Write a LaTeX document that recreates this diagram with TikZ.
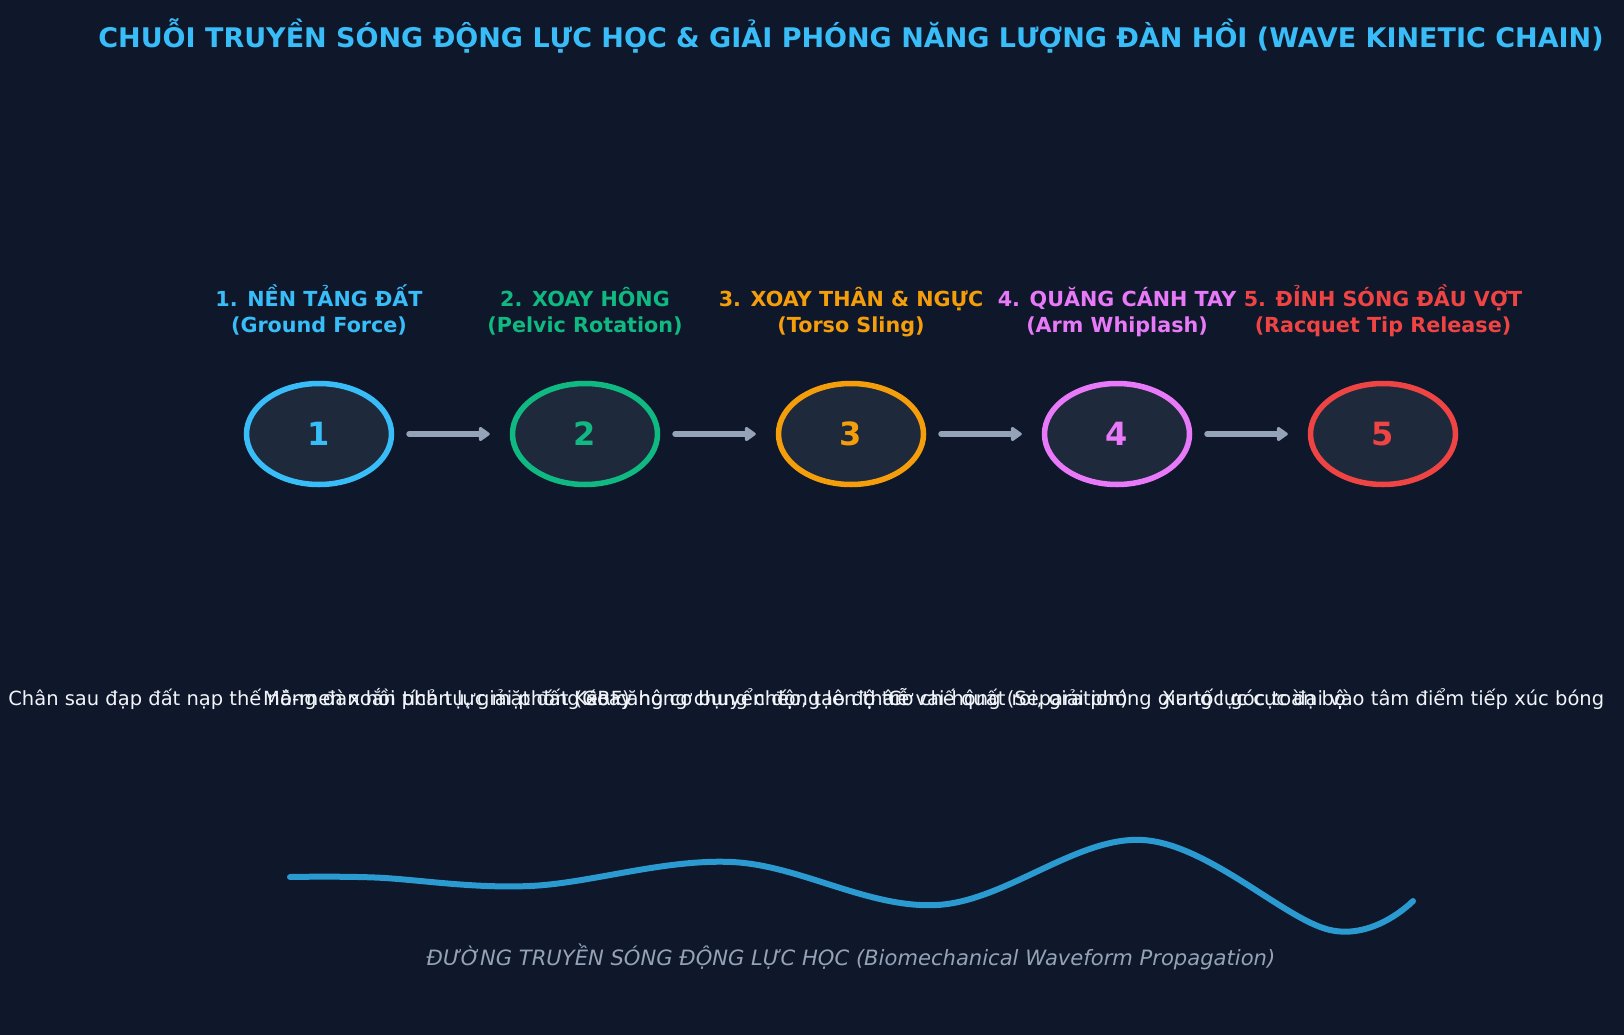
\documentclass[tikz,border=0pt]{standalone}
\usepackage{fontspec}
\setmainfont{DejaVu Sans}
\usetikzlibrary{arrows.meta,shapes.geometric}
\definecolor{bgnavy}{HTML}{0F172A}
\definecolor{discfill}{HTML}{1E293B}
\definecolor{cground}{HTML}{38BDF8}
\definecolor{cpelvic}{HTML}{10B981}
\definecolor{ctorso}{HTML}{F59E0B}
\definecolor{carm}{HTML}{E879F9}
\definecolor{ctip}{HTML}{EF4444}
\definecolor{slate}{HTML}{94A3B8}
\definecolor{wavecol}{HTML}{2B9AD0}
\definecolor{desccol}{HTML}{F1F5F9}
\tikzset{
  stagedisc/.style={ellipse, fill=discfill, line width=5.5pt, minimum width=145pt,
    minimum height=101pt, inner sep=0pt, font=\fontsize{32}{38}\selectfont\bfseries},
  stagetitle/.style={anchor=base, inner sep=0pt, font=\fontsize{20.7}{26.5}\selectfont\bfseries},
  stagedesc/.style={inner sep=0pt, text=desccol, font=\fontsize{19.5}{23}\selectfont},
  flowarrow/.style={draw=slate, line width=6pt, line cap=round,
    -{Triangle[length=12pt,width=16pt,round]}, shorten <=15pt, shorten >=20pt}
}
\newcommand{\drawstage}[6]{
  \node[stagedisc, draw=#3, text=#3] (s#1) at (#2,434) {#1};
  \node[stagetitle, text=#3] (h#1) at (#2,306) {#1. #4};
  \node[stagetitle, text=#3] (sub#1) at (#2,332) {(#5)};
  \node[stagedesc] (d#1) at (#2,699) {#6};
}
\begin{document}
\begin{tikzpicture}[x=1pt,y=-1pt]
\fill[bgnavy] (0,0) rectangle (1624,1035);
\useasboundingbox (0,0) rectangle (1624,1035);
\node[text=cground, font=\fontsize{27}{32}\selectfont\bfseries] (title) at (851,36)
  {CHUỖI TRUYỀN SÓNG ĐỘNG LỰC HỌC \& GIẢI PHÓNG NĂNG LƯỢNG ĐÀN HỒI (WAVE KINETIC CHAIN)};
\drawstage{1}{319}{cground}{NỀN TẢNG ĐẤT}{Ground Force}{Chân sau đạp đất nạp thế năng đàn hồi phản lực mặt đất (GRF)}
\drawstage{2}{585}{cpelvic}{XOAY HÔNG}{Pelvic Rotation}{Mô-men xoắn tích tụ, giải phóng xoay hông chuyển động lên thân}
\drawstage{3}{851}{ctorso}{XOAY THÂN \& NGỰC}{Torso Sling}{Kéo căng cơ bụng chéo, tạo độ trễ vai-hông (Separation)}
\drawstage{4}{1117}{carm}{QUĂNG CÁNH TAY}{Arm Whiplash}{Cơ chế quất roi, giải phóng gia tốc góc toàn bộ}
\drawstage{5}{1383}{ctip}{ĐỈNH SÓNG ĐẦU VỢT}{Racquet Tip Release}{Xung lực cực đại vào tâm điểm tiếp xúc bóng}
\foreach \i [evaluate=\i as \j using int(\i+1)] in {1,...,4}
  \draw[flowarrow] (s\i) -- (s\j);
% waveform
\draw[wavecol, line width=6pt, line cap=round] plot[smooth, tension=0.6] coordinates
  {(290,877) (375,877.5) (530,886) (732,862) (937,905) (1143,840) (1330,930) (1413,901)};
\node[text=slate, font=\fontsize{21.1}{25}\selectfont\itshape] (footer) at (851,957)
  {ĐƯỜNG TRUYỀN SÓNG ĐỘNG LỰC HỌC (Biomechanical Waveform Propagation)};
\end{tikzpicture}
\end{document}
